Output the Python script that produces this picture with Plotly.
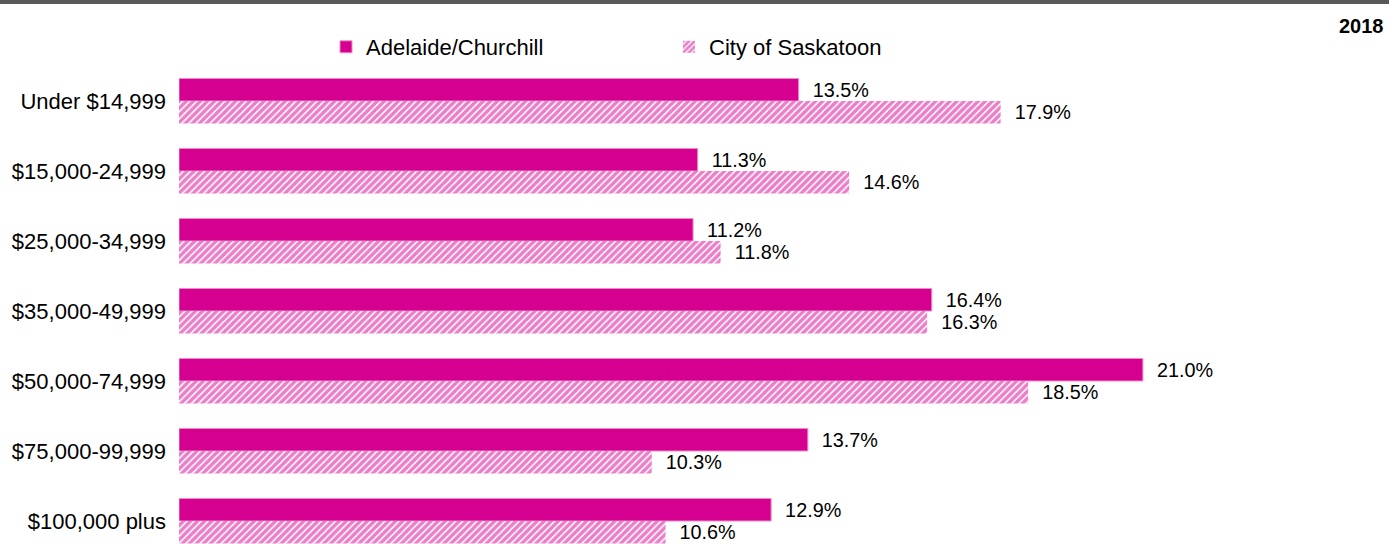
import plotly.graph_objects as go

categories = ["Under $14,999", "$15,000-24,999", "$25,000-34,999", "$35,000-49,999",
              "$50,000-74,999", "$75,000-99,999", "$100,000 plus"]
adelaide = [13.5, 11.3, 11.2, 16.4, 21.0, 13.7, 12.9]
saskatoon = [17.9, 14.6, 11.8, 16.3, 18.5, 10.3, 10.6]
series_names = ["Adelaide/Churchill", "City of Saskatoon"]
title_text = "2018"

MAG = "#D5008F"
FONT = "Liberation Sans, Arial, sans-serif"
FS = 22

fig = go.Figure()
fig.add_trace(go.Bar(
    y=categories, x=adelaide, orientation="h", name=series_names[0],
    marker=dict(color=MAG, line=dict(color="#F08CC8", width=1)),
    text=[f"{v:.1f}%" for v in adelaide], texttemplate="  %{text}",
    textposition="outside", cliponaxis=False,
    textfont=dict(family=FONT, size=FS, color="#000000"),
))
fig.add_trace(go.Bar(
    y=categories, x=saskatoon, orientation="h", name=series_names[1],
    marker=dict(color="white", line=dict(width=0),
                pattern=dict(shape="/", fgcolor=MAG, bgcolor="white", size=5, solidity=0.7)),
    text=[f"{v:.1f}%" for v in saskatoon], texttemplate="  %{text}",
    textposition="outside", cliponaxis=False,
    textfont=dict(family=FONT, size=FS, color="#000000"),
))

W, H = 1395, 544
L, R, T, B = 179, 5, 66, 0
pw, ph = W - L - R, H - T - B

fig.update_layout(
    width=W, height=H, barmode="group", bargap=0.357, bargroupgap=0,
    margin=dict(l=L, r=R, t=T, b=B),
    plot_bgcolor="white", paper_bgcolor="white",
    font=dict(family=FONT, size=FS, color="#000000"),
    showlegend=True,
    legend=dict(orientation="h", x=(326 - L) / pw, y=(H - 26) / ph, xanchor="left", yanchor="top",
                font=dict(family=FONT, size=FS), entrywidth=298, entrywidthmode="pixels",
                itemwidth=30, bgcolor="rgba(0,0,0,0)", traceorder="normal"),
    xaxis=dict(range=[0, pw / 45.9], visible=False, showgrid=False, zeroline=False),
    yaxis=dict(type="category", range=[(ph / 70) - 0.5, -0.5], showgrid=False, zeroline=False,
               showline=False, ticks="", ticklabelstandoff=12,
               tickfont=dict(family=FONT, size=FS, color="#000000")),
    annotations=[dict(text=f"<b>{title_text}</b>", xref="paper", yref="paper",
                      x=(1386 - L) / pw, y=(H - 26) / ph, xanchor="right", yanchor="middle",
                      showarrow=False, font=dict(family=FONT, size=20, color="#000000"))],
    shapes=[dict(type="rect", xref="paper", yref="paper",
                 x0=-L / pw, x1=(1389 - L) / pw, y0=(H - 4) / ph, y1=(H + 1) / ph,
                 fillcolor="#595959", line=dict(width=0))],
)

fig.write_html("out.html", config={"displayModeBar": False},
               post_script="document.body.style.margin='0';document.body.style.overflow='hidden';")
